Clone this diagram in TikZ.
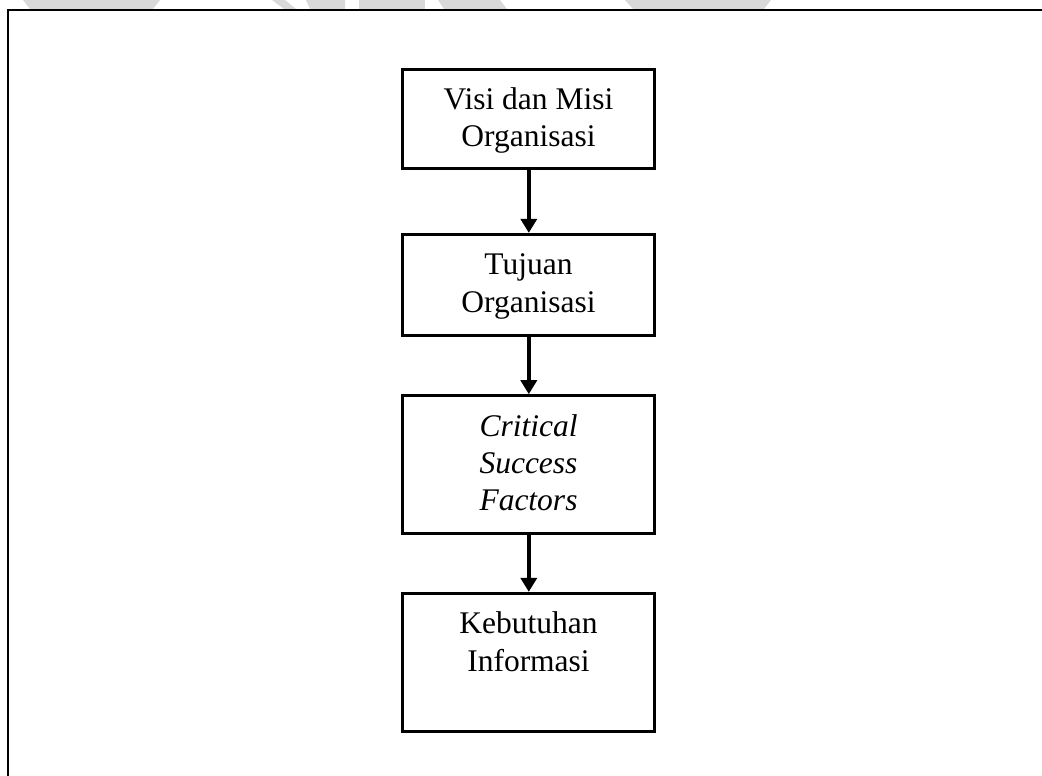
\documentclass[tikz,border=0pt]{standalone}
\usepackage{fontspec}
\setmainfont{Liberation Serif}
\usetikzlibrary{arrows.meta}
\definecolor{wm}{RGB}{217,217,217}
\begin{document}
\begin{tikzpicture}[x=1pt,y=-1pt,
  box/.style={draw,line width=3pt,minimum width=252.3pt,inner sep=0pt},
  flow/.style={-{Triangle[length=14pt,width=16pt]},line width=4pt},
  txt/.style={font=\fontsize{31.5pt}{37.5pt}\selectfont,align=center,anchor=base,inner sep=0pt},
  itxt/.style={txt,font=\fontsize{31.5pt}{37pt}\selectfont\itshape}]
\clip (0,0) rectangle (1042,776);
% watermark fragments
\fill[wm] (23,0) -- (160,0) -- (153,9) -- (30,9) -- cycle;
\fill[wm] (272,0) -- (285,0) -- (296,9) -- (284,9) -- cycle;
\fill[wm] (306,0) -- (345,0) -- (345,9) -- (310,9) -- cycle;
\fill[wm] (359,0) -- (425,0) -- (425,9) -- (359,9) -- cycle;
\fill[wm] (438,0) -- (500,0) -- (507,9) -- (444,9) -- cycle;
\fill[wm] (625,0) -- (771,0) -- (764,9) -- (633,9) -- cycle;
% frame
\draw[line width=2pt] (1060,10.3) -- (7.7,10.3) -- (7.7,800);
% boxes
\node[box,minimum height=99.3pt]  (b1) at (528.8,118.7) {};
\node[box,minimum height=100.7pt] (b2) at (528.8,284.7) {};
\node[box,minimum height=137.6pt] (b3) at (528.8,464.5) {};
\node[box,minimum height=137.7pt] (b4) at (528.8,662.2) {};
% texts (base anchor = baseline of the last line)
\node[txt]  (t1) at (528.5,146.7) {Visi dan Misi\\Organisasi};
\node[txt]  (t2) at (528.5,312)   {Tujuan\\Organisasi};
\node[itxt] (t3) at (528.5,510)   {Critical\\Success\\Factors};
\node[txt]  (t4) at (528.5,671)   {Kebutuhan\\Informasi};
% connectors
\draw[flow] (b1.south) -- (b2.north);
\draw[flow] (b2.south) -- (b3.north);
\draw[flow] (b3.south) -- (b4.north);
\end{tikzpicture}
\end{document}
